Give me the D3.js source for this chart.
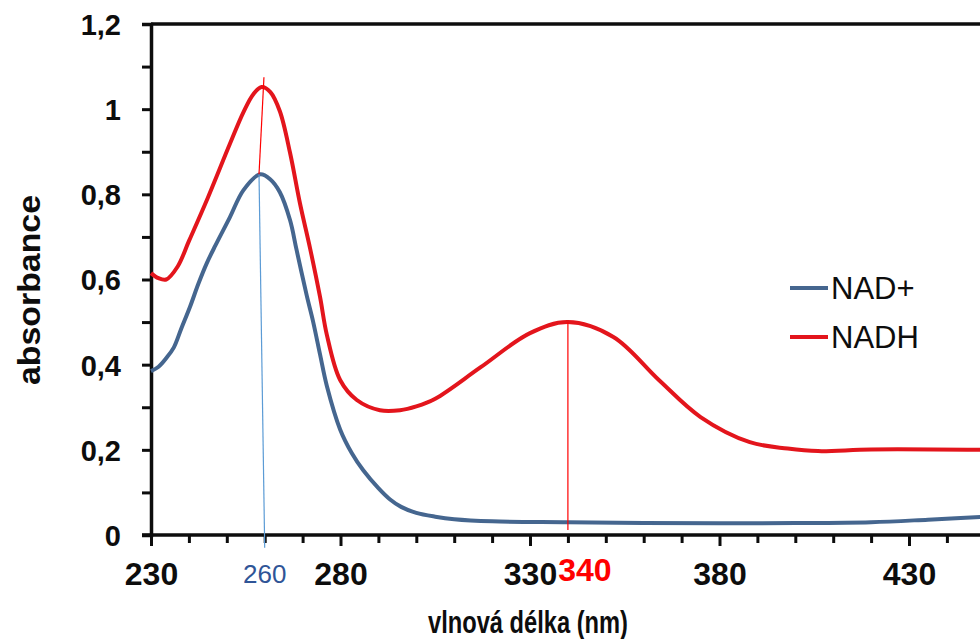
<!DOCTYPE html>
<html>
<head>
<meta charset="utf-8">
<script src="https://cdn.jsdelivr.net/npm/d3@7"></script>
<style>
  body { margin: 0; background: #fff; }
  svg { display: block; font-family: "Liberation Sans", Arial, sans-serif; }
</style>
</head>
<body>
<div id="chart"></div>
<script>
// spectra (wavelength in nm, absorbance)
const nadWl = [230, 232, 234, 236, 238, 240.3, 242.5, 244.7, 247, 250.8, 254.4, 258.8, 261.5, 264, 266.7, 268.4, 271.1, 272.8, 274.6, 276.4, 279.9, 283, 286, 290, 293, 296, 300, 305, 310, 320, 340, 360, 400, 420, 435, 450];
const nadAbs = [0.385, 0.395, 0.415, 0.44, 0.485, 0.536, 0.59, 0.638, 0.68, 0.746, 0.81, 0.847, 0.835, 0.805, 0.739, 0.67, 0.562, 0.5, 0.424, 0.35, 0.248, 0.192, 0.152, 0.11, 0.084, 0.066, 0.052, 0.043, 0.037, 0.032, 0.03, 0.028, 0.028, 0.03, 0.036, 0.043];

const nadhWl = [230, 232, 234, 237, 240, 245, 250.8, 254.4, 257, 259.2, 261.5, 264, 266.7, 269.3, 272, 274.6, 276.4, 279.9, 284.3, 290.4, 295.7, 300, 305, 317, 330, 340, 352, 364, 375, 388, 398, 406, 420, 450];
const nadhAbs = [0.615, 0.603, 0.60, 0.63, 0.69, 0.792, 0.918, 0.993, 1.035, 1.052, 1.04, 0.995, 0.897, 0.779, 0.672, 0.559, 0.47, 0.364, 0.317, 0.293, 0.293, 0.302, 0.32, 0.394, 0.474, 0.50, 0.465, 0.364, 0.277, 0.218, 0.203, 0.197, 0.201, 0.2];

const seriesNames = ["NAD+", "NADH"];
const xTicksMajor = [230, 280, 330, 380, 430];
const yTicksMajor = [0, 0.2, 0.4, 0.6, 0.8, 1, 1.2];

const width = 980;
const height = 639;
const plotLeft = 151, plotTop = 24, plotBottom = 535;

const svg = d3.select("#chart").append("svg")
    .attr("width", width)
    .attr("height", height);

// x axis runs past the right edge (picture is cropped there)
const x = d3.scaleLinear().domain([230, 480]).range([plotLeft, plotLeft + 250 * 3.79]);
const y = d3.scaleLinear().domain([0, 1.2]).range([plotBottom, plotTop]);

const blue = "#45668f";
const red = "#e3151c";
const ink = "#0d0d0d";

// frame: top line
svg.append("line")
    .attr("x1", plotLeft).attr("x2", width)
    .attr("y1", y(1.2)).attr("y2", y(1.2))
    .attr("stroke", ink).attr("stroke-width", 3.5);

// y axis
const yAxis = d3.axisLeft(y)
    .tickValues(d3.range(0, 1.21, 0.1))
    .tickSize(9)
    .tickPadding(21)
    .tickFormat(d => {
        const r = Math.round(d * 10) / 10;
        return yTicksMajor.some(v => Math.abs(v - r) < 1e-9) ? String(r).replace(".", ",") : "";
    });

const gy = svg.append("g")
    .attr("transform", `translate(${plotLeft},0)`)
    .call(yAxis);
gy.select(".domain").attr("stroke", ink).attr("stroke-width", 3.5);
gy.selectAll(".tick line").attr("stroke", ink).attr("stroke-width", 3);
gy.selectAll(".tick text")
    .attr("font-size", 29).attr("font-weight", "bold").attr("fill", ink)
    .attr("dy", "0.36em");

// x axis
const xAxis = d3.axisBottom(x)
    .tickValues(d3.range(230, 481, 10))
    .tickSize(8)
    .tickPadding(19)
    .tickFormat(d => xTicksMajor.includes(d) ? d : "");

const gx = svg.append("g")
    .attr("transform", `translate(0,${plotBottom})`)
    .call(xAxis);
gx.select(".domain").attr("d", `M${plotLeft - 9},0H${width}`).attr("stroke", ink).attr("stroke-width", 3.5);
gx.selectAll(".tick line").attr("stroke", ink).attr("stroke-width", 3)
    .attr("y2", d => xTicksMajor.includes(d) ? 11 : 8);
gx.selectAll(".tick text")
    .attr("font-size", 32).attr("font-weight", "bold").attr("fill", ink);

// curves
const line = d3.line()
    .x(d => x(d[0]))
    .y(d => y(d[1]))
    .curve(d3.curveCatmullRom.alpha(0.5));

const plot = svg.append("g");
plot.append("path")
    .datum(nadWl.map((w, i) => [w, nadAbs[i]]))
    .attr("d", line)
    .attr("fill", "none")
    .attr("stroke", blue)
    .attr("stroke-width", 4);

plot.append("path")
    .datum(nadhWl.map((w, i) => [w, nadhAbs[i]]))
    .attr("d", line)
    .attr("fill", "none")
    .attr("stroke", red)
    .attr("stroke-width", 4);

// annotation lines marking the maxima
svg.append("line")
    .attr("x1", x(258.5)).attr("y1", y(0.847))
    .attr("x2", x(260)).attr("y2", y(-0.03))
    .attr("stroke", "#5b9bd5").attr("stroke-width", 1.2);
svg.append("line")
    .attr("x1", x(259.8)).attr("y1", y(1.075))
    .attr("x2", x(258.5)).attr("y2", y(0.847))
    .attr("stroke", "#ff0000").attr("stroke-width", 1.2);
svg.append("line")
    .attr("x1", x(340)).attr("y1", y(0.5))
    .attr("x2", x(340)).attr("y2", y(0.012))
    .attr("stroke", "#ff0000").attr("stroke-width", 1.2);

svg.append("text")
    .attr("x", x(260)).attr("y", 583)
    .attr("text-anchor", "middle")
    .attr("font-size", 26).attr("fill", "#2f5597")
    .text("260");
svg.append("text")
    .attr("x", x(340) + 17).attr("y", 581)
    .attr("text-anchor", "middle")
    .attr("font-size", 32).attr("font-weight", "bold").attr("fill", "#ff0000")
    .text("340");

// axis titles
svg.append("text")
    .attr("x", 528).attr("y", 633)
    .attr("text-anchor", "middle")
    .attr("font-size", 31).attr("font-weight", "bold").attr("fill", ink)
    .attr("textLength", 200).attr("lengthAdjust", "spacingAndGlyphs")
    .text("vlnová délka (nm)");
svg.append("text")
    .attr("transform", "translate(40,290) rotate(-90)")
    .attr("text-anchor", "middle")
    .attr("font-size", 31).attr("font-weight", "bold").attr("fill", ink)
    .attr("textLength", 190).attr("lengthAdjust", "spacingAndGlyphs")
    .text("absorbance");

// legend
const legend = svg.append("g").attr("transform", "translate(790,288)");
legend.selectAll("g")
    .data(seriesNames)
    .join("g")
    .attr("transform", (d, i) => `translate(0,${i * 49})`)
    .each(function(d, i) {
        const g = d3.select(this);
        g.append("line").attr("x1", 0).attr("x2", 38)
            .attr("stroke", i === 0 ? blue : red).attr("stroke-width", 4);
        g.append("text").attr("x", 41).attr("y", 11)
            .attr("font-size", 31).attr("fill", ink)
            .text(d);
    });
</script>
</body>
</html>
